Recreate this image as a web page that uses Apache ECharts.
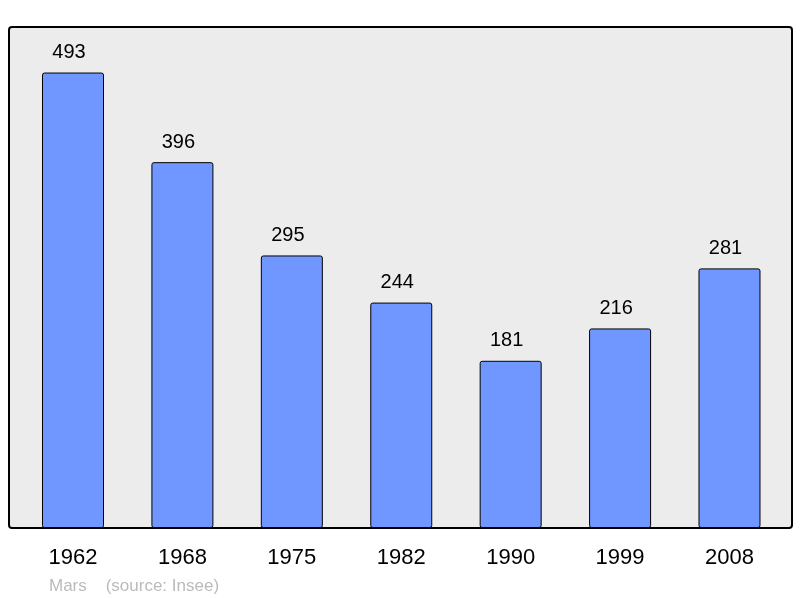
<!DOCTYPE html>
<html>
<head>
<meta charset="utf-8">
<script src="https://cdn.jsdelivr.net/npm/echarts@6/dist/echarts.min.js"></script>
<style>html,body{margin:0;padding:0;background:#fff}#c{width:800px;height:598px}</style>
</head>
<body>
<div id="c"></div>
<script>
const years = ['1962','1968','1975','1982','1990','1999','2008'];
const population = [493, 396, 295, 244, 181, 216, 281];
const titleText = 'Mars    (source: Insee)';

const chart = echarts.init(document.getElementById('c'), null, {renderer: 'canvas'});
chart.setOption({
  animation: false,
  backgroundColor: '#ffffff',
  textStyle: {fontFamily: 'Liberation Sans, Arial, sans-serif'},
  title: {
    text: titleText,
    left: 44, top: 573,
    textStyle: {fontSize: 17, fontWeight: 'normal', color: '#bbbbbb', fontFamily: 'Liberation Sans, Arial, sans-serif'}
  },
  graphic: [{
    type: 'rect', z: -10, silent: true,
    shape: {x: 9, y: 27, width: 783, height: 501, r: 3},
    style: {fill: '#ececec', stroke: '#000', lineWidth: 2}
  }],
  grid: {left: 18.3, right: 15.8, top: 27, bottom: 70, containLabel: false},
  xAxis: {
    type: 'category', data: years,
    axisLine: {show: false}, axisTick: {show: false},
    axisLabel: {fontSize: 22, color: '#000', margin: 19, fontFamily: 'Liberation Sans, Arial, sans-serif'}
  },
  yAxis: {type: 'value', min: 0, max: 542.3, show: false, splitLine: {show: false}},
  series: [{
    type: 'bar', data: population, barWidth: 62,
    itemStyle: {color: '#7096ff', borderColor: '#000', borderWidth: 1, borderRadius: 2},
    label: {show: true, position: 'top', distance: 10, offset: [-4, 0], fontSize: 20, color: '#000', fontFamily: 'Liberation Sans, Arial, sans-serif'}
  }]
});
</script>
</body>
</html>
